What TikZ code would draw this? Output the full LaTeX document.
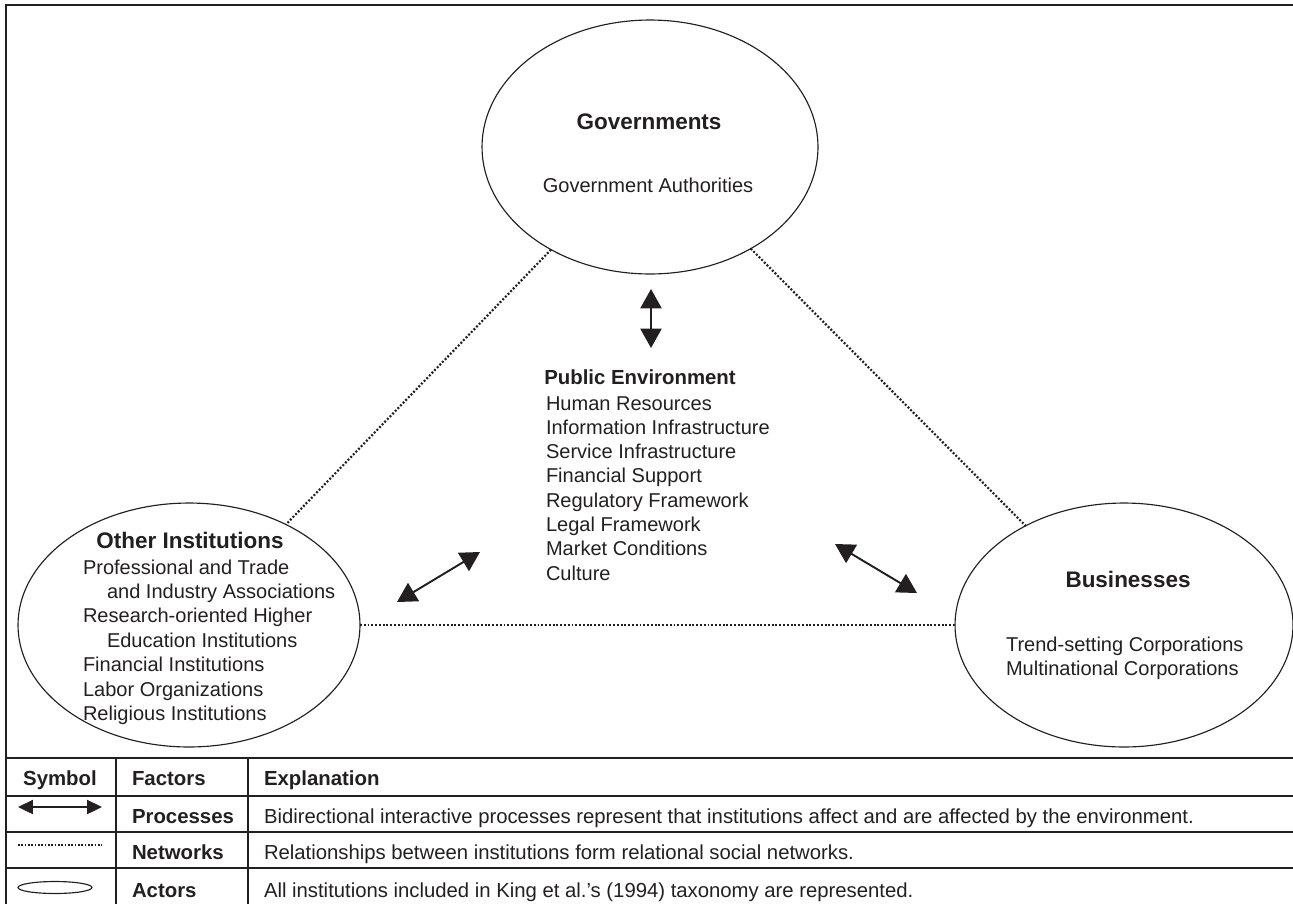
\documentclass[tikz,border=0pt]{standalone}
\usepackage{fontspec}
\setmainfont{Liberation Sans}
\usetikzlibrary{shapes.geometric,arrows.meta}
\definecolor{ink}{HTML}{231F20}
\tikzset{
  actor/.style={draw=ink, ellipse, line width=0.65pt, inner sep=0pt, outer sep=0pt},
  netline/.style={draw=ink, line width=1.25pt, dash pattern=on 1.1pt off 1.05pt},
  procarrow/.style={draw=ink, line width=1.1pt,
    {Triangle[length=11pt,width=12pt]}-{Triangle[length=11pt,width=12pt]}},
  keyarrow/.style={draw=ink, line width=1.1pt,
    {Triangle[length=8.5pt,width=8pt]}-{Triangle[length=8.5pt,width=8pt]}},
  txt/.style={inner sep=0pt, outer sep=0pt, text=ink,
    font=\fontsize{11.4pt}{13.8pt}\selectfont, anchor=base west},
  btxt/.style={txt, font=\fontsize{11.6pt}{13.8pt}\selectfont\bfseries},
  ktxt/.style={txt, font=\fontsize{11.55pt}{13.8pt}\selectfont},
  head/.style={inner sep=0pt, outer sep=0pt, text=ink,
    font=\fontsize{12.8pt}{15pt}\selectfont\bfseries, anchor=base},
  frameline/.style={draw=ink, line width=1.1pt},
  rule/.style={draw=ink, line width=0.6pt},
}
\begin{document}
\begin{tikzpicture}[x=0.02cm, y=-0.02cm]
\useasboundingbox (0,0) rectangle (1293,903);
\clip (0,0) rectangle (1293,903);

% outer frame
\draw[frameline] (6,920) -- (6,5) -- (1310,5);

% actors
\node[actor, minimum width=6.72cm, minimum height=5.08cm] (gov) at (650,147) {};
\node[actor, minimum width=6.84cm, minimum height=4.88cm] (oth) at (189,625) {};
\node[actor, minimum width=6.76cm, minimum height=4.88cm] (bus) at (1124,625) {};

% networks between actors
\draw[netline] (gov) -- (oth);
\draw[netline] (gov) -- (bus);
\draw[netline] (oth) -- (bus);

% Governments
\node[head] (govt) at (649,129) {Governments};
\node[txt, anchor=base] (gova) at (648,192) {Government Authorities};

% Other institutions
\node[head] (otht) at (190,548) {Other Institutions};
\node[txt] (oth1) at (83,574) {Professional and Trade};
\node[txt] (oth2) at (107,598.4) {and Industry Associations};
\node[txt] (oth3) at (83,622.8) {Research-oriented Higher};
\node[txt] (oth4) at (107,647.2) {Education Institutions};
\node[txt] (oth5) at (83,671.6) {Financial Institutions};
\node[txt] (oth6) at (83,696) {Labor Organizations};
\node[txt] (oth7) at (83,720.4) {Religious Institutions};

% Businesses
\node[head] (bust) at (1128,587) {Businesses};
\node[txt] (bus1) at (1006,651) {Trend-setting Corporations};
\node[txt] (bus2) at (1006,675) {Multinational Corporations};

% Public environment
\node[btxt, anchor=base] (pubt) at (640,384) {Public Environment};
\foreach \lbl [count=\i from 0] in {Human Resources, Information Infrastructure,
    Service Infrastructure, Financial Support, Regulatory Framework,
    Legal Framework, Market Conditions, Culture}
  \node[txt] (pub\i) at (546,410+24.3*\i) {\lbl};

% processes between actors and the environment
\coordinate (pv1) at (651,289);
\coordinate (pv2) at (651,348);
\draw[procarrow] (pv1) -- (pv2);
\coordinate (pl1) at (397,602);
\coordinate (pl2) at (480,552);
\draw[procarrow] (pl1) -- (pl2);
\coordinate (pr1) at (835,544);
\coordinate (pr2) at (917,593);
\draw[procarrow] (pr1) -- (pr2);

% key table
\draw[frameline] (6,758) -- (1310,758);
\draw[rule] (6,796) -- (1310,796);
\draw[rule] (6,832) -- (1310,832);
\draw[rule] (6,868) -- (1310,868);
\draw[rule] (116,758) -- (116,920);
\draw[rule] (248,758) -- (248,920);

\node[btxt, anchor=base] (hsym) at (60,785) {Symbol};
\node[btxt] (hfac) at (132,785) {Factors};
\node[btxt] (hexp) at (264,785) {Explanation};

\coordinate (ka1) at (18,807);
\coordinate (ka2) at (102,807);
\draw[keyarrow] (ka1) -- (ka2);
\node[btxt] (fpro) at (132,823) {Processes};
\node[ktxt] (epro) at (264,823) {Bidirectional interactive processes represent that institutions affect and are affected by the environment.};

\coordinate (kn1) at (18,845);
\coordinate (kn2) at (102,845);
\draw[netline, line width=1pt, dash pattern=on 0.9pt off 1.0pt] (kn1) -- (kn2);
\node[btxt] (fnet) at (132,859) {Networks};
\node[ktxt] (enet) at (264,859) {Relationships between institutions form relational social networks.};

\node[actor, minimum width=1.48cm, minimum height=0.24cm] (kact) at (55,887.5) {};
\node[btxt] (fact) at (132,897) {Actors};
\node[ktxt] (eact) at (264,897) {All institutions included in King et al.’s (1994) taxonomy are represented.};
\end{tikzpicture}
\end{document}
